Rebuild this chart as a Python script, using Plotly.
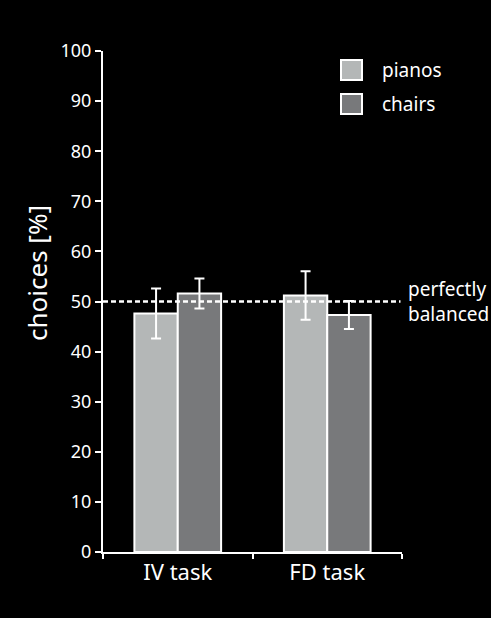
import plotly.graph_objects as go

# Data
tasks = ["IV task", "FD task"]
pianos = [47.6, 51.2]
pianos_err = [5.0, 4.85]
chairs = [51.6, 47.3]
chairs_err = [3.0, 2.8]
balance_level = 50
y_ticks = [0, 10, 20, 30, 40, 50, 60, 70, 80, 90, 100]

PIANO_COLOR = "#b4b7b7"
CHAIR_COLOR = "#78797b"
FONT = "Noto Sans"

x_pos = list(range(len(tasks)))

fig = go.Figure()
for name, vals, errs, color in [
    ("pianos", pianos, pianos_err, PIANO_COLOR),
    ("chairs", chairs, chairs_err, CHAIR_COLOR),
]:
    fig.add_trace(go.Bar(
        x=x_pos, y=vals, name=name,
        marker=dict(color=color, line=dict(color="white", width=2)),
        error_y=dict(type="data", array=errs, color="white", thickness=2, width=5),
        showlegend=False,
    ))

# Reference line at the balanced level
fig.add_shape(type="line", xref="paper", yref="y", x0=0, x1=0.995,
              y0=balance_level, y1=balance_level,
              line=dict(color="white", width=2.5, dash="5px,3px"))
fig.add_annotation(xref="paper", yref="y", x=1.012, y=balance_level,
                   text="perfectly<br>balanced", showarrow=False,
                   xanchor="left", yanchor="middle", align="left",
                   font=dict(color="white", size=19, family=FONT))

# Legend drawn as swatches with labels
for i, (name, color) in enumerate([("pianos", PIANO_COLOR), ("chairs", CHAIR_COLOR)]):
    y_top = 60 + i * 34
    fig.add_shape(type="rect", xref="x domain", yref="paper",
                  x0=(341 - 103) / 299, x1=(362 - 103) / 299,
                  y0=(552 - y_top) / 501, y1=(552 - y_top - 20) / 501,
                  fillcolor=color, line=dict(color="white", width=2))
    fig.add_annotation(xref="paper", yref="paper",
                       x=(380 - 103) / 299, y=(552 - y_top - 10) / 501,
                       text=name, showarrow=False, xanchor="left", yanchor="middle",
                       font=dict(color="white", size=19, family=FONT))

# Y-axis title placed slightly above the axis centre
fig.add_annotation(xref="paper", yref="paper",
                   x=(37 - 103) / 299, y=(552 - 273) / 501,
                   text="choices [%]", showarrow=False, textangle=-90,
                   xanchor="center", yanchor="middle",
                   font=dict(color="white", size=26, family=FONT))

fig.update_layout(
    width=491, height=618,
    margin=dict(l=103, r=89, t=51, b=66),
    paper_bgcolor="black", plot_bgcolor="black",
    barmode="group", bargap=0.42, bargroupgap=0,
    font=dict(family=FONT, color="white"),
    xaxis=dict(
        range=[-0.5, 1.5], tickvals=x_pos, ticktext=tasks,
        ticks="", tickfont=dict(size=22, color="white"),
        showline=True, linecolor="white", linewidth=2,
        showgrid=False, zeroline=False,
        minor=dict(tickmode="array", tickvals=[-0.5, 0.5, 1.5],
                   ticks="outside", ticklen=5, tickwidth=2, tickcolor="white",
                   showgrid=False),
    ),
    yaxis=dict(
        range=[0, 100], tickvals=y_ticks,
        ticks="outside", ticklen=6, tickwidth=2, tickcolor="white",
        tickfont=dict(size=18, color="white"),
        showline=True, linecolor="white", linewidth=2,
        showgrid=False, zeroline=False,
    ),
)

fig.write_html("out.html")
